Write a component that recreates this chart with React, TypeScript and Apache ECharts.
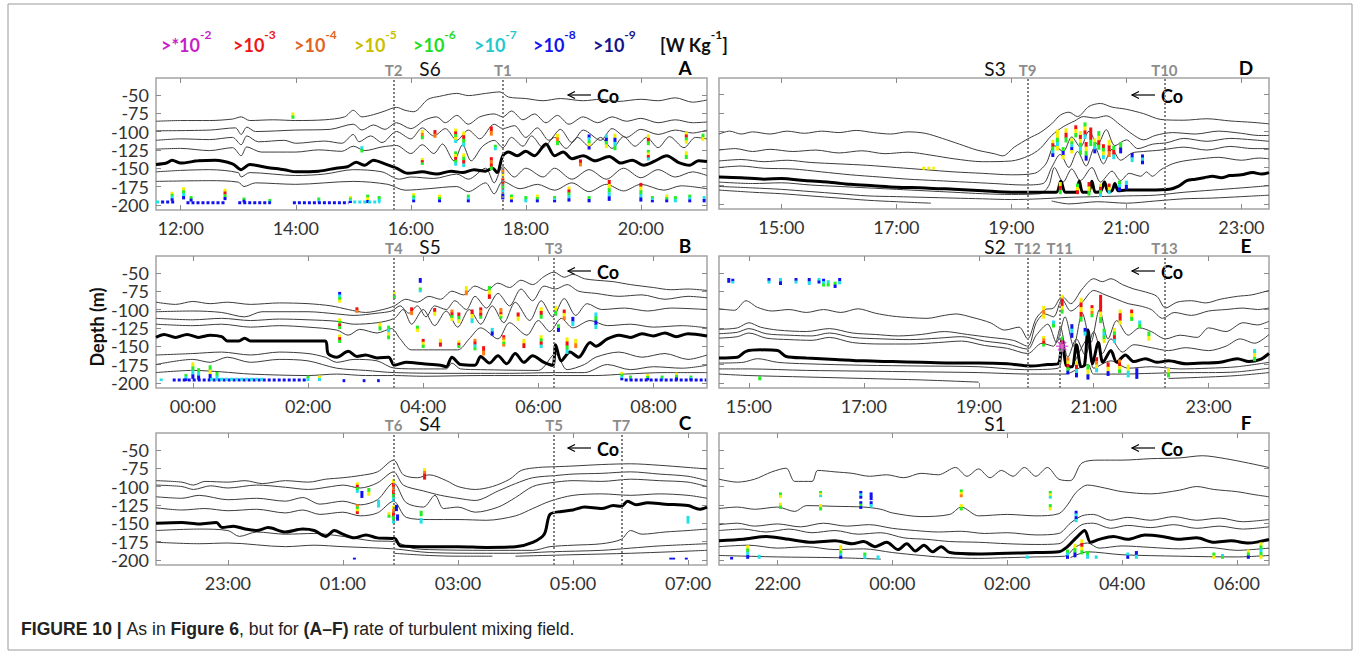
import { useEffect, useRef } from "react";
import * as echarts from "echarts";

type Pt = [number, number | null];
type Col = [number, number, number, string];
type Run = [number, number, number, string];

// ---------- axes ----------
const Y_TICKS = [-200, -175, -150, -125, -100, -75, -50];
const Y_MIN = -207;
const Y_MAX = -27;

const A_RANGE = [11.57, 21.15]; const A_TICKS = [12, 14, 16, 18, 20];
const B_RANGE = [-0.64, 8.93]; const B_TICKS = [0, 2, 4, 6, 8];
const C_RANGE = [21.75, 31.33]; const C_TICKS = [23, 25, 27, 29, 31];
const D_RANGE = [13.915, 23.48]; const D_TICKS = [15, 17, 19, 21, 23];
const E_RANGE = [14.48, 24.05]; const E_TICKS = [15, 17, 19, 21, 23];
const F_RANGE = [20.98, 30.56]; const F_TICKS = [22, 24, 26, 28, 30];

// transect marks (hour, name)
const T_A: [number, string][] = [[15.7, "T2"], [17.6, "T1"]];
const T_B: [number, string][] = [[3.49, "T4"], [6.27, "T3"]];
const T_C: [number, string][] = [[25.88, "T6"], [28.67, "T5"], [29.84, "T7"]];
const T_D: [number, string][] = [[19.28, "T9"], [21.66, "T10"]];
const T_E: [number, string][] = [[19.85, "T12"], [20.41, "T11"], [22.23, "T13"]];
const T_F: [number, string][] = [];

// ---------- panel A (S6) isolines ----------
const lineA1: Pt[] = [[11.57,-86],[12.0,-85],[12.5,-85],[12.9,-83],[13.05,-80],[13.2,-85],[13.6,-84],[14.0,-85],[14.5,-84],[14.85,-80],[15.0,-71],[15.15,-80],[15.35,-77],[15.55,-72],[15.75,-67],[15.9,-71],[16.05,-73],[16.3,-56],[16.5,-52],[16.8,-48],[17.0,-51],[17.3,-48],[17.55,-46],[17.7,-53],[18.0,-55],[18.3,-58],[18.6,-55],[19.0,-58],[19.3,-56],[19.6,-59],[20.0,-56],[20.3,-58],[20.6,-54],[20.9,-60],[21.15,-57]];
const lineA2: Pt[] = [[11.57,-99],[12.5,-98],[12.95,-95],[13.05,-104],[13.15,-94],[13.3,-100],[14.0,-98],[14.6,-97],[15.0,-90],[15.15,-98],[15.35,-91],[15.55,-97],[15.75,-88],[16.0,-96],[16.25,-84],[16.45,-80],[16.6,-88],[16.8,-78],[17.0,-90],[17.2,-80],[17.45,-76],[17.6,-80],[17.75,-72],[17.95,-84],[18.15,-76],[18.35,-88],[18.55,-78],[18.75,-90],[19.0,-80],[19.25,-88],[19.5,-80],[19.75,-86],[20.0,-82],[20.3,-88],[20.6,-84],[20.9,-88],[21.15,-87]];
const lineA3: Pt[] = [[11.57,-112],[12.0,-110],[12.5,-111],[12.9,-108],[13.05,-118],[13.15,-106],[13.35,-114],[13.8,-112],[14.0,-116],[14.5,-113],[14.8,-116],[15.0,-104],[15.1,-114],[15.3,-106],[15.5,-115],[15.75,-100],[16.0,-110],[16.2,-95],[16.4,-106],[16.6,-96],[16.8,-112],[17.0,-98],[17.2,-110],[17.45,-90],[17.6,-96],[17.8,-92],[18.0,-108],[18.2,-95],[18.4,-112],[18.6,-97],[18.8,-115],[19.0,-98],[19.3,-112],[19.5,-96],[19.75,-108],[20.0,-97],[20.3,-104],[20.6,-98],[20.9,-102],[21.15,-98]];
const lineA4: Pt[] = [[11.57,-124],[12.0,-123],[12.5,-126],[12.9,-122],[13.05,-133],[13.15,-121],[13.4,-128],[14.0,-128],[14.4,-125],[14.8,-127],[15.0,-120],[15.2,-126],[15.5,-121],[15.75,-119],[16.0,-130],[16.2,-118],[16.4,-130],[16.55,-117],[16.75,-140],[16.9,-118],[17.05,-140],[17.25,-120],[17.45,-112],[17.6,-122],[17.75,-108],[17.95,-120],[18.1,-106],[18.3,-122],[18.5,-108],[18.7,-123],[18.9,-108],[19.1,-120],[19.3,-108],[19.5,-123],[19.7,-107],[19.9,-120],[20.1,-108],[20.3,-122],[20.5,-107],[20.75,-122],[20.95,-108],[21.15,-110]];
const lineA5: Pt[] = [[11.57,-145],[11.75,-143],[11.85,-139],[12.0,-143],[12.3,-140],[12.6,-139],[12.9,-144],[13.05,-152],[13.2,-145],[13.5,-149],[13.8,-152],[14.0,-155],[14.4,-154],[14.7,-150],[14.9,-148],[15.05,-142],[15.2,-146],[15.35,-139],[15.55,-144],[15.75,-150],[15.95,-157],[16.2,-155],[16.45,-158],[16.7,-154],[16.9,-156],[17.1,-152],[17.3,-154],[17.42,-150],[17.5,-156],[17.6,-133],[17.7,-128],[17.85,-133],[18.0,-127],[18.15,-133],[18.35,-117],[18.5,-133],[18.65,-128],[18.8,-137],[19.0,-133],[19.2,-140],[19.45,-134],[19.65,-143],[19.85,-139],[20.05,-146],[20.25,-140],[20.45,-133],[20.65,-142],[20.85,-146],[21.0,-140],[21.15,-141]];
const lineA6: Pt[] = [[11.57,-155],[12.0,-153],[12.5,-152],[13.0,-156],[13.05,-162],[13.2,-156],[14.0,-160],[14.5,-158],[15.0,-152],[15.5,-155],[15.8,-165],[16.0,-162],[16.4,-164],[16.8,-158],[17.0,-165],[17.3,-150],[17.45,-170],[17.6,-148],[17.8,-162],[18.0,-150],[18.3,-162],[18.5,-150],[18.8,-165],[19.1,-152],[19.4,-165],[19.7,-150],[20.0,-163],[20.3,-152],[20.6,-162],[20.9,-155],[21.15,-160]];
const lineA7: Pt[] = [[11.57,-168],[12.5,-167],[13.0,-169],[13.1,-175],[13.3,-170],[14.0,-172],[15.0,-168],[15.6,-172],[15.9,-180],[16.3,-178],[16.8,-175],[17.0,-182],[17.3,-170],[17.45,-185],[17.6,-168],[17.9,-178],[18.2,-172],[18.5,-180],[18.8,-170],[19.1,-182],[19.4,-172],[19.7,-181],[20.0,-172],[20.4,-180],[20.7,-174],[21.15,-178]];

// ---------- panel B (S5) isolines ----------
const lineB1: Pt[] = [[-0.64,-90],[-0.3,-93],[0.0,-89],[0.3,-92],[0.6,-90],[1.0,-93],[1.5,-91],[2.0,-92],[2.4,-95],[2.7,-100],[3.0,-104],[3.3,-100],[3.5,-95],[3.7,-86],[3.9,-90],[4.1,-82],[4.3,-86],[4.5,-75],[4.7,-80],[4.9,-68],[5.1,-74],[5.3,-64],[5.5,-70],[5.7,-60],[5.9,-66],[6.1,-55],[6.27,-49],[6.45,-56],[6.6,-52],[6.8,-58],[7.0,-60],[7.3,-62],[7.6,-66],[8.0,-70],[8.3,-73],[8.6,-72],[8.93,-74]];
const lineB2: Pt[] = [[-0.64,-103],[0.0,-102],[0.5,-104],[0.9,-110],[1.2,-103],[2.0,-103],[2.5,-106],[2.8,-108],[3.2,-105],[3.45,-102],[3.6,-95],[3.75,-105],[3.9,-95],[4.05,-110],[4.2,-95],[4.4,-100],[4.55,-88],[4.75,-100],[4.9,-82],[5.1,-98],[5.3,-78],[5.5,-95],[5.7,-72],[5.9,-88],[6.1,-68],[6.3,-72],[6.5,-66],[6.7,-75],[7.0,-78],[7.4,-82],[7.8,-80],[8.2,-86],[8.6,-82],[8.93,-84]];
const lineB3: Pt[] = [[-0.64,-112],[0.0,-114],[0.5,-112],[1.0,-115],[1.5,-113],[2.0,-114],[2.5,-116],[2.8,-120],[3.2,-118],[3.5,-112],[3.65,-100],[3.8,-120],[4.0,-100],[4.2,-122],[4.4,-102],[4.6,-124],[4.8,-100],[5.0,-120],[5.2,-95],[5.4,-118],[5.6,-90],[5.85,-115],[6.05,-88],[6.25,-110],[6.45,-85],[6.65,-108],[6.85,-92],[7.1,-100],[7.5,-98],[7.9,-102],[8.3,-98],[8.93,-100]];
const lineB4: Pt[] = [[-0.64,-120],[0.0,-122],[0.5,-120],[1.0,-124],[1.5,-122],[2.0,-124],[2.5,-128],[2.7,-135],[2.9,-127],[3.2,-132],[3.45,-126],[3.6,-140],[3.8,-155],[4.6,-155],[4.8,-140],[5.0,-125],[5.3,-140],[5.5,-118],[5.8,-135],[6.0,-115],[6.2,-130],[6.4,-112],[6.6,-125],[6.9,-115],[7.2,-122],[7.6,-120],[8.0,-124],[8.5,-122],[8.93,-125]];
const lineB5: Pt[] = [[-0.64,-138],[-0.5,-134],[-0.3,-138],[-0.1,-134],[0.1,-138],[0.3,-135],[0.5,-137],[0.6,-143],[0.8,-143],[0.9,-139],[1.0,-143],[1.5,-143],[2.0,-143],[2.3,-143],[2.35,-160],[2.5,-165],[2.7,-157],[2.85,-164],[3.0,-162],[3.2,-166],[3.4,-165],[3.5,-176],[3.7,-172],[4.0,-174],[4.3,-176],[4.4,-178],[4.5,-165],[4.65,-175],[4.9,-176],[5.0,-164],[5.15,-173],[5.3,-163],[5.45,-174],[5.6,-160],[5.75,-172],[5.9,-163],[6.1,-172],[6.25,-176],[6.3,-148],[6.4,-170],[6.55,-158],[6.7,-165],[6.9,-145],[7.0,-150],[7.2,-140],[7.4,-135],[7.6,-138],[7.8,-133],[8.0,-136],[8.2,-132],[8.4,-137],[8.6,-133],[8.93,-136]];
const lineB6: Pt[] = [[-0.64,-162],[0.0,-160],[0.5,-158],[1.0,-162],[1.5,-158],[2.0,-160],[2.3,-165],[2.5,-172],[2.8,-168],[3.2,-170],[3.5,-180],[4.0,-181],[4.4,-181],[4.5,-173],[4.65,-181],[5.0,-182],[6.0,-183],[6.3,-160],[6.5,-182],[6.8,-175],[7.0,-165],[7.4,-158],[7.8,-165],[8.2,-160],[8.6,-168],[8.93,-162]];
const lineB7: Pt[] = [[-0.64,-175],[0.0,-168],[0.3,-172],[0.6,-165],[1.0,-172],[1.5,-168],[2.0,-170],[2.5,-180],[3.0,-183],[3.5,-186],[4.5,-187],[5.5,-187],[6.3,-186],[6.8,-186],[7.2,-175],[7.6,-182],[8.0,-178],[8.5,-180],[8.93,-176]];
const lineB8: Pt[] = [[-0.64,-186],[0.0,-183],[0.5,-185],[1.0,-188],[2.0,-190],[2.5,-188],[3.0,-190],[3.5,-190],[4.0,-191],[5.0,-190],[6.0,-190],[7.0,-190],[7.5,-188],[8.2,-186],[8.93,-186]];

// ---------- panel C (S4) isolines ----------
const lineC1: Pt[] = [[21.75,-92],[22.2,-94],[22.4,-98],[22.6,-93],[23.0,-94],[23.3,-92],[23.6,-96],[24.0,-92],[24.4,-94],[24.7,-90],[25.0,-88],[25.3,-85],[25.6,-80],[25.88,-64],[26.05,-84],[26.3,-88],[26.5,-84],[26.8,-92],[27.0,-100],[27.3,-104],[27.6,-100],[27.9,-90],[28.1,-78],[28.4,-74],[28.7,-73],[29.0,-72],[29.5,-70],[30.0,-69],[30.5,-71],[31.0,-74],[31.33,-76]];
const lineC2: Pt[] = [[21.75,-98],[22.2,-100],[22.4,-104],[22.7,-99],[23.0,-102],[23.5,-98],[24.0,-101],[24.4,-104],[24.8,-100],[25.0,-98],[25.3,-102],[25.6,-95],[25.88,-80],[26.05,-98],[26.4,-106],[26.7,-112],[27.0,-116],[27.3,-119],[27.7,-106],[28.0,-96],[28.3,-88],[28.7,-85],[29.0,-83],[29.5,-82],[30.0,-80],[30.5,-83],[31.0,-86],[31.33,-92]];
const lineC3: Pt[] = [[21.75,-114],[22.2,-116],[22.5,-112],[23.0,-118],[23.5,-116],[24.0,-120],[24.3,-115],[24.6,-124],[25.0,-120],[25.3,-125],[25.6,-118],[25.88,-95],[26.1,-122],[26.4,-128],[26.6,-112],[26.75,-130],[27.0,-128],[27.3,-135],[27.7,-128],[28.0,-115],[28.3,-100],[28.6,-95],[29.0,-92],[29.5,-93],[30.0,-90],[30.5,-92],[31.0,-94],[31.33,-100]];
const lineC4: Pt[] = [[21.75,-129],[22.2,-132],[22.6,-130],[23.0,-133],[23.5,-131],[24.0,-136],[24.3,-132],[24.6,-138],[25.0,-135],[25.3,-140],[25.6,-136],[25.88,-120],[26.1,-142],[26.5,-145],[27.0,-145],[27.5,-146],[28.0,-140],[28.3,-130],[28.6,-120],[29.0,-112],[29.5,-110],[30.0,-112],[30.5,-110],[31.0,-112],[31.33,-116]];
const lineC5: Pt[] = [[21.75,-150],[22.2,-149],[22.5,-151],[22.8,-149],[22.9,-156],[23.1,-154],[23.3,-158],[23.5,-160],[23.7,-156],[24.0,-162],[24.3,-158],[24.5,-160],[24.7,-168],[24.85,-160],[25.0,-165],[25.2,-170],[25.4,-166],[25.6,-170],[25.9,-171],[26.0,-181],[26.5,-182],[27.0,-182],[27.5,-183],[28.0,-182],[28.3,-176],[28.5,-165],[28.6,-138],[28.8,-134],[29.0,-132],[29.2,-128],[29.5,-130],[29.7,-126],[29.84,-127],[29.95,-120],[30.1,-125],[30.3,-122],[30.6,-124],[31.0,-126],[31.2,-131],[31.33,-128]];
const lineC6: Pt[] = [[21.75,-160],[22.5,-158],[23.0,-160],[23.2,-168],[23.5,-162],[24.0,-165],[24.5,-164],[25.0,-168],[25.5,-174],[25.88,-175],[26.2,-184],[26.5,-186],[27.5,-187],[28.3,-187],[28.6,-182],[29.0,-180],[29.5,-178],[29.84,-172],[30.0,-160],[30.2,-165],[30.6,-162],[31.0,-160],[31.33,-158]];
const lineC7: Pt[] = [[21.75,-176],[22.5,-178],[23.0,-177],[24.0,-182],[24.5,-180],[25.0,-182],[25.88,-185],[26.5,-190],[27.5,-191],[28.0,-191],[28.6,-189],[29.5,-187],[30.0,-184],[30.5,-181],[31.33,-178]];
const lineC8: Pt[] = [[25.88,-191],[26.5,-194],[27.0,-195],[27.6,-195],[27.61,null],[28.0,-195],[29.0,-193],[30.0,-191],[30.7,-189],[31.33,-187]];

// ---------- panel D (S3) isolines ----------
const lineD1: Pt[] = [[13.915,-104],[14.1,-100],[14.3,-104],[14.5,-101],[14.8,-104],[15.1,-100],[15.4,-103],[15.7,-100],[16.0,-102],[16.3,-99],[16.6,-102],[16.9,-104],[17.2,-101],[17.5,-103],[17.8,-110],[18.1,-118],[18.4,-126],[18.7,-131],[18.85,-134],[19.05,-122],[19.3,-110],[19.5,-102],[19.7,-90],[19.85,-78],[20.0,-74],[20.15,-80],[20.35,-66],[20.55,-62],[20.75,-67],[21.0,-70],[21.3,-76],[21.6,-84],[22.0,-85],[22.4,-83],[22.8,-86],[23.2,-88],[23.48,-90]];
const lineD2: Pt[] = [[13.915,-126],[14.2,-124],[14.5,-128],[14.8,-125],[15.2,-128],[15.6,-126],[16.0,-130],[16.4,-127],[16.8,-131],[17.2,-129],[17.6,-133],[18.0,-138],[18.5,-142],[19.0,-141],[19.3,-134],[19.5,-124],[19.7,-106],[19.9,-94],[20.1,-86],[20.25,-80],[20.45,-82],[20.65,-79],[20.9,-92],[21.1,-104],[21.3,-112],[21.5,-106],[21.8,-102],[22.2,-104],[22.6,-100],[23.0,-103],[23.3,-106],[23.48,-106]];
const lineD3: Pt[] = [[13.915,-141],[14.3,-139],[14.7,-142],[15.1,-140],[15.5,-143],[16.0,-145],[16.5,-147],[17.0,-150],[17.5,-153],[18.0,-156],[18.5,-158],[19.0,-160],[19.4,-158],[19.6,-145],[19.75,-120],[19.9,-128],[20.05,-108],[20.2,-122],[20.35,-100],[20.5,-118],[20.65,-98],[20.8,-120],[21.0,-112],[21.2,-124],[21.45,-118],[21.7,-116],[22.0,-110],[22.4,-114],[22.8,-110],[23.2,-112],[23.48,-114]];
const lineD4: Pt[] = [[13.915,-150],[14.3,-148],[14.7,-151],[15.2,-152],[15.7,-156],[16.2,-160],[16.7,-163],[17.2,-166],[17.7,-168],[18.2,-170],[18.7,-172],[19.2,-174],[19.55,-172],[19.7,-150],[19.85,-132],[20.0,-150],[20.15,-128],[20.3,-148],[20.45,-122],[20.6,-145],[20.75,-125],[20.9,-140],[21.1,-130],[21.3,-128],[21.6,-126],[22.0,-122],[22.4,-126],[22.8,-121],[23.2,-124],[23.48,-124]];
const lineD5: Pt[] = [[13.915,-163],[14.3,-164],[14.7,-166],[15.0,-165],[15.4,-168],[15.8,-170],[16.2,-173],[16.6,-175],[17.0,-177],[17.5,-178],[18.0,-180],[18.5,-182],[19.0,-184],[19.5,-184],[19.78,-184],[19.86,-169],[19.94,-184],[20.12,-184],[20.18,-169],[20.24,-184],[20.34,-184],[20.4,-169],[20.46,-184],[20.55,-183],[20.62,-170],[20.68,-183],[20.75,-182],[20.8,-172],[20.86,-182],[21.0,-181],[21.4,-181],[21.75,-180],[21.9,-176],[22.05,-168],[22.2,-166],[22.35,-164],[22.5,-162],[22.65,-164],[22.8,-161],[23.0,-160],[23.2,-157],[23.35,-159],[23.48,-157]];
const lineD6: Pt[] = [[13.915,-170],[14.5,-172],[15.0,-171],[15.5,-174],[16.0,-176],[16.5,-178],[17.0,-180],[17.5,-182],[18.0,-184],[18.5,-186],[19.0,-187],[19.5,-186],[19.65,-175],[19.75,-150],[19.9,-170],[20.05,-152],[20.2,-168],[20.4,-150],[20.55,-170],[20.75,-155],[20.9,-168],[21.05,-158],[21.25,-162],[21.35,-156],[21.45,-162],[21.6,-153],[21.8,-145],[22.0,-141],[22.3,-138],[22.6,-136],[23.0,-140],[23.3,-137],[23.48,-138]];
const lineD7: Pt[] = [[13.915,-176],[14.5,-178],[15.0,-180],[15.5,-183],[16.0,-186],[16.5,-189],[17.0,-190],[17.5,-191],[18.0,-192],[18.5,-193],[19.0,-194],[19.5,-193],[20.0,-191],[20.5,-190],[21.0,-189],[21.5,-188],[22.0,-184],[22.5,-181],[23.0,-178],[23.48,-175]];
const lineD8: Pt[] = [[13.915,-181],[14.5,-184],[15.0,-186],[15.5,-189],[16.0,-192],[16.5,-195],[17.0,-197],[17.6,-199],[17.61,null],[19.7,-196],[20.0,-200],[20.5,-197],[21.0,-199],[21.5,-196],[22.0,-193],[22.5,-192],[23.0,-190],[23.48,-188]];

// ---------- panel E (S2) isolines ----------
const lineE1: Pt[] = [[14.48,-99],[14.75,-101],[14.95,-88],[15.15,-97],[15.4,-102],[15.7,-100],[16.0,-104],[16.3,-100],[16.6,-104],[16.9,-99],[17.2,-105],[17.5,-109],[17.8,-111],[18.1,-112],[18.4,-108],[18.6,-106],[18.9,-111],[19.2,-118],[19.45,-128],[19.7,-124],[19.85,-140],[20.0,-112],[20.15,-100],[20.3,-98],[20.45,-82],[20.6,-92],[20.8,-72],[21.0,-58],[21.15,-62],[21.3,-58],[21.5,-66],[21.7,-72],[21.9,-76],[22.1,-82],[22.25,-98],[22.45,-90],[22.7,-88],[22.95,-91],[23.2,-86],[23.5,-82],[23.75,-80],[24.05,-74]];
const lineE2: Pt[] = [[14.48,-127],[14.8,-125],[15.0,-118],[15.2,-124],[15.5,-128],[16.0,-130],[16.4,-126],[16.8,-132],[17.2,-134],[17.6,-136],[18.0,-134],[18.4,-130],[18.8,-134],[19.2,-138],[19.6,-142],[19.85,-150],[20.0,-118],[20.15,-106],[20.3,-110],[20.45,-86],[20.6,-102],[20.8,-90],[21.0,-74],[21.2,-80],[21.4,-86],[21.6,-92],[21.8,-95],[22.0,-100],[22.2,-112],[22.4,-104],[22.7,-108],[23.0,-102],[23.3,-100],[23.6,-98],[23.85,-100],[24.05,-98]];
const lineE3: Pt[] = [[14.48,-133],[14.8,-131],[15.0,-126],[15.3,-133],[15.7,-135],[16.1,-136],[16.4,-132],[16.8,-138],[17.3,-140],[17.8,-141],[18.3,-139],[18.7,-137],[19.1,-143],[19.5,-147],[19.85,-154],[20.0,-135],[20.2,-120],[20.35,-145],[20.5,-110],[20.65,-150],[20.8,-105],[20.95,-145],[21.1,-100],[21.25,-140],[21.4,-115],[21.6,-135],[21.8,-125],[22.0,-130],[22.25,-140],[22.5,-135],[22.8,-138],[23.0,-125],[23.3,-130],[23.6,-118],[23.85,-121],[24.05,-116]];
const lineE4: Pt[] = [[14.48,-139],[14.8,-137],[15.0,-132],[15.3,-139],[15.7,-141],[16.1,-142],[16.4,-138],[16.8,-145],[17.3,-147],[17.8,-147],[18.3,-145],[18.7,-143],[19.1,-149],[19.5,-153],[19.85,-160],[20.1,-146],[20.3,-150],[20.42,-125],[20.55,-165],[20.7,-140],[20.85,-162],[21.0,-130],[21.15,-160],[21.3,-140],[21.5,-158],[21.7,-148],[22.0,-152],[22.3,-156],[22.6,-152],[23.0,-156],[23.3,-150],[23.55,-140],[23.8,-146],[24.05,-134]];
const lineE5: Pt[] = [[14.48,-166],[14.8,-165],[14.95,-157],[15.2,-155],[15.5,-156],[15.65,-164],[16.0,-166],[16.5,-168],[17.0,-170],[17.5,-171],[18.0,-172],[18.5,-173],[19.0,-173],[19.5,-174],[19.9,-177],[20.2,-175],[20.38,-174],[20.45,-140],[20.52,-176],[20.62,-178],[20.7,-148],[20.78,-178],[20.84,-176],[20.9,-128],[20.98,-174],[21.08,-145],[21.16,-172],[21.3,-156],[21.4,-172],[21.55,-162],[21.7,-171],[21.9,-167],[22.1,-172],[22.3,-170],[22.6,-174],[22.9,-173],[23.2,-172],[23.5,-167],[23.7,-171],[23.9,-168],[24.05,-160]];
const lineE6: Pt[] = [[14.48,-173],[14.9,-172],[15.15,-167],[15.5,-172],[16.0,-174],[17.0,-176],[18.0,-177],[19.0,-178],[19.8,-182],[20.38,-180],[20.46,-150],[20.56,-182],[20.9,-140],[21.0,-180],[21.3,-170],[21.6,-180],[22.0,-178],[22.5,-181],[23.0,-180],[23.5,-178],[24.05,-172]];
const lineE7: Pt[] = [[14.48,-181],[15.0,-181],[16.0,-183],[17.0,-184],[18.0,-185],[19.0,-186],[19.9,-188],[20.5,-188],[20.9,-175],[21.0,-188],[21.5,-188],[22.0,-187],[22.5,-186],[23.0,-186],[23.5,-185],[24.05,-180]];
const lineE8: Pt[] = [[14.48,-188],[15.0,-190],[16.0,-192],[17.0,-194],[18.0,-196],[19.0,-199],[19.01,null],[22.3,-194],[23.0,-192],[23.5,-190],[24.05,-186]];

// ---------- panel F (S1) isolines ----------
const lineF1: Pt[] = [[20.98,-90],[21.3,-94],[21.6,-90],[21.9,-80],[22.15,-75],[22.3,-93],[22.6,-93],[22.7,-78],[23.0,-80],[23.3,-82],[23.6,-86],[23.9,-84],[24.2,-88],[24.5,-82],[24.8,-84],[25.1,-74],[25.3,-86],[25.5,-76],[25.7,-88],[25.9,-78],[26.1,-86],[26.3,-74],[26.5,-86],[26.7,-74],[26.9,-90],[27.1,-92],[27.3,-68],[27.6,-64],[28.0,-64],[28.5,-62],[29.0,-61],[29.4,-58],[29.8,-62],[30.2,-68],[30.56,-74]];
const lineF2: Pt[] = [[20.98,-130],[21.3,-128],[21.6,-131],[22.0,-128],[22.3,-134],[22.5,-126],[23.0,-127],[23.5,-128],[23.8,-131],[24.0,-136],[24.5,-141],[25.0,-138],[25.2,-128],[25.5,-140],[26.0,-138],[26.5,-140],[26.9,-137],[27.05,-125],[27.2,-108],[27.4,-98],[27.7,-102],[28.0,-107],[28.5,-110],[29.0,-105],[29.3,-100],[29.6,-104],[30.0,-107],[30.3,-111],[30.56,-114]];
const lineF3: Pt[] = [[20.98,-152],[21.3,-150],[21.6,-154],[22.0,-151],[22.4,-155],[22.8,-150],[23.2,-154],[23.6,-152],[24.0,-157],[24.4,-160],[24.8,-162],[25.2,-161],[25.6,-164],[26.0,-163],[26.5,-166],[26.9,-164],[27.1,-150],[27.3,-140],[27.5,-138],[27.8,-146],[28.1,-142],[28.5,-146],[28.9,-141],[29.3,-146],[29.7,-143],[30.1,-148],[30.56,-145]];
const lineF4: Pt[] = [[20.98,-160],[21.4,-158],[21.8,-162],[22.2,-158],[22.6,-163],[23.0,-160],[23.4,-165],[23.8,-163],[24.2,-170],[24.6,-172],[25.0,-175],[25.5,-176],[26.0,-178],[26.5,-179],[26.9,-178],[27.1,-165],[27.3,-152],[27.5,-150],[27.8,-157],[28.1,-153],[28.5,-156],[28.9,-152],[29.3,-157],[29.7,-154],[30.1,-158],[30.56,-155]];
const lineF5: Pt[] = [[20.98,-174],[21.4,-172],[21.8,-168],[22.2,-172],[22.6,-176],[23.0,-174],[23.3,-178],[23.5,-175],[23.7,-182],[23.9,-176],[24.1,-186],[24.25,-178],[24.4,-188],[24.55,-180],[24.7,-189],[24.85,-182],[25.0,-190],[25.5,-192],[26.0,-191],[26.5,-190],[26.9,-189],[27.05,-182],[27.2,-170],[27.35,-160],[27.45,-176],[27.6,-172],[27.85,-168],[28.1,-172],[28.4,-166],[28.7,-168],[29.0,-172],[29.3,-170],[29.6,-176],[29.9,-174],[30.2,-177],[30.56,-172]];
const lineF6: Pt[] = [[20.98,-182],[21.5,-180],[22.0,-184],[22.5,-182],[23.0,-186],[23.5,-185],[24.0,-190],[24.5,-194],[25.0,-197],[25.5,-198],[26.0,-197],[26.5,-196],[27.0,-195],[27.2,-182],[27.4,-177],[27.6,-184],[28.0,-181],[28.5,-183],[29.0,-185],[29.5,-183],[30.0,-187],[30.56,-184]];
const lineF7: Pt[] = [[20.98,-194],[22.0,-196],[23.0,-197],[23.8,-199],[23.81,null],[27.1,-197],[27.4,-189],[28.0,-193],[29.0,-195],[30.0,-196],[30.56,-194]];

// ---------- turbulence columns: [hour, top depth, bottom depth, classes top->bottom] ----------
const colsA: Col[] = [
  [11.85,-182,-194,"ygcb"],[12.05,-176,-192,"ygcb"],[12.18,-188,-195,"gb"],[12.77,-178,-193,"yrgb"],[13.1,-190,-196,"gb"],
  [13.55,-192,-197,"gc"],[13.95,-74,-82,"yg"],[14.4,-190,-196,"gc"],[14.95,-188,-197,"ygcb"],[15.15,-120,-128,"cg"],
  [15.25,-186,-197,"gyb"],[15.45,-188,-196,"gc"],[16.05,-184,-196,"ygcb"],[16.2,-98,-110,"yog"],[16.2,-136,-145,"yrg"],
  [16.42,-98,-108,"ro"],[16.5,-186,-196,"ygb"],[16.78,-96,-115,"yrgyc"],[16.78,-127,-146,"gyrgc"],[16.92,-100,-120,"yrgc"],
  [16.92,-130,-148,"ygrc"],[17.0,-186,-196,"gcb"],[17.4,-93,-105,"ro"],[17.4,-135,-152,"rorg"],[17.47,-118,-125,"gc"],
  [17.6,-150,-192,"oyrgcb"],[17.75,-186,-196,"gyb"],[18.0,-188,-196,"gc"],[18.2,-186,-196,"ygb"],[18.55,-103,-118,"yog"],
  [18.5,-188,-196,"gcb"],[18.75,-175,-195,"yrgcb"],[18.95,-138,-147,"ro"],[19.1,-104,-124,"bcgyb"],[19.1,-188,-196,"gb"],
  [19.4,-104,-122,"cbgy"],[19.45,-166,-194,"rygcb"],[19.55,-103,-125,"ybcg"],[20.0,-170,-195,"rygcb"],[20.13,-104,-118,"yrg"],
  [20.13,-125,-139,"gyrc"],[20.2,-188,-196,"gcb"],[20.45,-186,-196,"ygb"],[20.6,-188,-196,"gc"],[20.79,-100,-116,"yrgy"],
  [20.79,-127,-137,"yg"],[20.85,-186,-196,"gcb"],[21.08,-103,-112,"gy"],[21.1,-188,-196,"cb"]
];
const colsB: Col[] = [
  [-0.55,-194,-197,"c"],[-0.12,-188,-197,"gcb"],[0.0,-172,-194,"ygcb"],[0.1,-180,-195,"gcb"],[0.3,-176,-194,"gyb"],
  [0.42,-185,-195,"gc"],[2.0,-190,-197,"gc"],[2.2,-190,-197,"yc"],[2.55,-76,-90,"bcgy"],[2.55,-112,-126,"ygrg"],
  [2.55,-134,-145,"yrg"],[2.85,-97,-104,"ro"],[3.25,-118,-128,"yg"],[3.4,-122,-140,"gcyg"],[3.5,-75,-85,"yg"],
  [3.8,-97,-107,"ro"],[3.9,-122,-130,"gy"],[3.95,-57,-63,"b"],[3.95,-70,-76,"gc"],[4.0,-140,-152,"ryg"],
  [4.2,-98,-108,"ry"],[4.3,-140,-150,"yr"],[4.5,-100,-115,"orgy"],[4.62,-104,-118,"rgy"],[4.62,-142,-152,"yrg"],
  [4.75,-68,-80,"yo"],[4.85,-100,-118,"ryc"],[4.9,-140,-155,"orcg"],[5.0,-97,-112,"rorg"],[5.05,-150,-162,"ro"],
  [5.15,-68,-85,"gyr"],[5.2,-125,-135,"cb"],[5.35,-98,-112,"ooryg"],[5.4,-135,-150,"roygo"],[5.65,-104,-115,"ry"],
  [5.75,-140,-152,"yr"],[6.05,-97,-112,"yrg"],[6.05,-135,-152,"ygrc"],[6.3,-95,-108,"yg"],[6.35,-120,-130,"gb"],
  [6.45,-100,-114,"ryo"],[6.5,-138,-160,"yrgc"],[6.6,-110,-122,"bc"],[6.65,-140,-152,"yo"],[7.0,-104,-126,"cgbc"],
  [7.45,-185,-196,"ygcb"],[7.6,-190,-196,"gc"],[7.9,-188,-196,"ygb"],[8.15,-190,-196,"gc"],[8.4,-186,-196,"ygb"],
  [8.65,-190,-196,"gcb"]
];
const colsC: Col[] = [
  [25.25,-94,-108,"yrgc"],[25.25,-124,-137,"ogyr"],[25.33,-106,-115,"b"],[25.45,-102,-112,"gy"],[25.62,-118,-128,"c"],
  [25.8,-135,-142,"yg"],[25.88,-90,-120,"yrorgc"],[25.88,-126,-150,"yorgc"],[25.93,-125,-133,"b"],[25.95,-138,-146,"b"],
  [26.42,-75,-90,"yorr"],[26.36,-133,-140,"g"],[26.36,-143,-150,"c"],[25.2,-197,-199,"b"],[30.7,-197,-199,"b"],
  [30.75,-197,-199,"b"],[30.97,-197,-199,"b"],[31.0,-140,-150,"c"]
];
const colsD: Col[] = [
  [19.72,-112,-135,"yrgcb"],[19.8,-98,-126,"yygcy"],[19.9,-122,-138,"gby"],[19.95,-96,-115,"yrg"],[20.05,-110,-130,"ygcby"],
  [20.12,-92,-108,"ryg"],[20.2,-100,-132,"yrygcg"],[20.28,-88,-110,"gyrc"],[20.3,-115,-140,"rygb"],[20.38,-95,-120,"rrg"],
  [20.45,-110,-130,"ygcb"],[20.52,-100,-125,"gyrg"],[20.6,-118,-138,"rgyc"],[20.7,-112,-135,"yro"],[20.78,-120,-138,"grc"],
  [20.9,-115,-130,"gb"],[21.0,-168,-180,"cb"],[21.1,-130,-142,"bc"],[21.28,-132,-145,"bcb"],[19.85,-170,-186,"yrg"],
  [20.15,-172,-186,"gyr"],[20.35,-170,-188,"ryg"],[20.55,-172,-190,"yrgc"],[20.7,-172,-186,"ryc"],[20.88,-168,-182,"gcb"]
];
const colsE: Col[] = [
  [14.65,-57,-63,"b"],[14.72,-58,-64,"bc"],[15.35,-57,-64,"bc"],[15.55,-57,-66,"cb"],[15.82,-57,-64,"bc"],
  [16.05,-57,-66,"bc"],[16.22,-57,-64,"cb"],[16.3,-58,-68,"bcg"],[16.38,-60,-68,"cg"],[16.5,-62,-70,"gb"],
  [16.58,-57,-65,"bc"],[15.19,-191,-196,"g"],[20.13,-95,-112,"yoy"],[20.13,-136,-150,"yorg"],[20.3,-115,-124,"cg"],
  [20.45,-80,-105,"yrryg"],[20.45,-137,-157,"gryg"],[20.62,-120,-138,"bcb"],[20.78,-84,-116,"yryrg"],[20.85,-125,-135,"bc"],
  [20.97,-94,-110,"ryog"],[21.12,-80,-118,"rrryg"],[21.18,-126,-145,"gcgy"],[21.36,-125,-145,"ygrc"],[21.46,-100,-120,"yrry"],
  [21.66,-100,-115,"ryg"],[21.8,-115,-125,"cg"],[21.96,-130,-142,"gy"],[22.3,-180,-192,"yg"],[23.8,-154,-170,"cyg"],
  [20.55,-165,-188,"oyrgb"],[20.7,-170,-192,"yrcb"],[20.9,-175,-195,"gyb"],[21.05,-165,-185,"royc"],[21.25,-172,-190,"ryb"],
  [21.45,-168,-186,"oryg"],[21.6,-175,-192,"yc"],[21.75,-180,-194,"b"]
];
const colsF: Col[] = [
  [22.05,-108,-115,"gy"],[22.05,-122,-130,"yg"],[22.75,-106,-114,"gyc"],[22.75,-124,-132,"yg"],[23.45,-106,-116,"bcb"],
  [23.45,-120,-130,"bgb"],[23.63,-108,-118,"bb"],[23.63,-120,-128,"bc"],[25.2,-104,-114,"gyo"],[25.2,-124,-132,"yg"],
  [26.75,-106,-116,"gyc"],[26.75,-124,-132,"gy"],[27.2,-133,-148,"bcbc"],[21.48,-180,-198,"ygcb"],[21.68,-193,-198,"c"],
  [21.2,-196,-199,"b"],[23.1,-180,-198,"yygcb"],[23.52,-190,-198,"gc"],[23.75,-194,-199,"c"],[26.35,-194,-198,"c"],
  [27.05,-186,-198,"gcb"],[27.18,-178,-196,"ygb"],[27.3,-172,-192,"yryg"],[27.4,-188,-198,"gc"],[27.55,-194,-198,"c"],
  [28.1,-190,-198,"cb"],[28.25,-188,-198,"bc"],[29.6,-190,-198,"gy"],[29.75,-192,-198,"cg"],[30.2,-186,-198,"ygb"],
  [30.42,-176,-198,"ygcgy"]
];
// horizontal strips near the bottom: [from hour, to hour, depth, class]
const runsA: Run[] = [[11.57,11.66,-196,"c"],[11.66,11.9,-196,"b"],[12.1,12.75,-197,"b"],[13.0,13.55,-197,"b"],[13.95,14.9,-197,"b"],[15.0,15.45,-196,"c"]];
const runsB: Run[] = [[-0.35,1.95,-196,"b"],[0.3,1.2,-195,"c"],[2.6,2.63,-197,"b"],[2.95,2.98,-197,"b"],[3.2,3.23,-197,"b"],[7.5,8.9,-196,"b"]];
const runsD: Run[] = [[17.45,17.65,-151,"y"]];
const starsE: [number, number][] = [[20.45, -150]];

const MARK: Record<string, string> = {
  m: "#ff00ff", r: "#f01010", o: "#ff7a10", y: "#f4f000", g: "#22ee22", c: "#20e0e8", b: "#1010f0", n: "#00007a",
};

const PANELS = [
  { box: [156, 78, 551, 132], range: A_RANGE, ticks: A_TICKS, thin: [lineA1, lineA2, lineA3, lineA4, lineA6, lineA7], thick: lineA5, cols: colsA, runs: runsA, tl: T_A, yLabels: true },
  { box: [156, 256, 551, 132], range: B_RANGE, ticks: B_TICKS, thin: [lineB1, lineB2, lineB3, lineB4, lineB6, lineB7, lineB8], thick: lineB5, cols: colsB, runs: runsB, tl: T_B, yLabels: true },
  { box: [156, 433, 551, 132], range: C_RANGE, ticks: C_TICKS, thin: [lineC1, lineC2, lineC3, lineC4, lineC6, lineC7, lineC8], thick: lineC5, cols: colsC, runs: [] as Run[], tl: T_C, yLabels: true },
  { box: [719, 78, 550, 131], range: D_RANGE, ticks: D_TICKS, thin: [lineD1, lineD2, lineD3, lineD4, lineD6, lineD7, lineD8], thick: lineD5, cols: colsD, runs: runsD, tl: T_D, yLabels: false },
  { box: [719, 256, 550, 132], range: E_RANGE, ticks: E_TICKS, thin: [lineE1, lineE2, lineE3, lineE4, lineE6, lineE7, lineE8], thick: lineE5, cols: colsE, runs: [] as Run[], tl: T_E, yLabels: false },
  { box: [719, 433, 550, 132], range: F_RANGE, ticks: F_TICKS, thin: [lineF1, lineF2, lineF3, lineF4, lineF6, lineF7], thick: lineF5, cols: colsF, runs: [] as Run[], tl: T_F, yLabels: false },
];

const LEGEND: [string, string, string][] = [
  [">*10", "-2", "#c81ec8"], [">10", "-3", "#f01414"], [">10", "-4", "#e0641e"], [">10", "-5", "#c8c000"],
  [">10", "-6", "#22dd22"], [">10", "-7", "#22c8cc"], [">10", "-8", "#1414ee"], [">10", "-9", "#14148c"],
];
const LEGEND_X = [161, 233, 294, 354, 413, 474, 533, 593];

const hourFmt = (v: number) => {
  const h = ((Math.round(v) % 24) + 24) % 24;
  return (h < 10 ? "0" : "") + h + ":00";
};

function buildOption() {
  const grid: any[] = [];
  const xAxis: any[] = [];
  const yAxis: any[] = [];
  const series: any[] = [];
  const tickStyle = { color: "#8a8a8a", width: 1 };
  const labelFont = { fontFamily: "Lato", fontSize: 18, color: "#333", lineHeight: 16 };
  const noLine = { show: false, onZero: false };

  PANELS.forEach((p, i) => {
    grid.push({ left: p.box[0], top: p.box[1], width: p.box[2], height: p.box[3], show: true, borderColor: "#a4a4a4", borderWidth: 1.5, backgroundColor: "transparent", containLabel: false });
    xAxis.push({
      type: "value", gridIndex: i, position: "bottom", min: p.range[0], max: p.range[1],
      axisLine: noLine, splitLine: { show: false },
      axisTick: { show: true, inside: true, length: 5, customValues: p.ticks, lineStyle: tickStyle },
      axisLabel: { ...labelFont, customValues: p.ticks, formatter: hourFmt, margin: 10 },
    });
    xAxis.push({
      type: "value", gridIndex: i, position: "top", min: p.range[0], max: p.range[1],
      axisLine: noLine, splitLine: { show: false },
      axisTick: { show: true, inside: true, length: 5, customValues: p.ticks, lineStyle: tickStyle },
      axisLabel: { show: false },
    });
    yAxis.push({
      type: "value", gridIndex: i, position: "left", min: Y_MIN, max: Y_MAX,
      axisLine: noLine, splitLine: { show: false },
      axisTick: { show: true, inside: true, length: 5, customValues: Y_TICKS, lineStyle: tickStyle },
      axisLabel: { ...labelFont, show: p.yLabels, customValues: Y_TICKS, margin: 7 },
    });
    yAxis.push({
      type: "value", gridIndex: i, position: "right", min: Y_MIN, max: Y_MAX,
      axisLine: noLine, splitLine: { show: false },
      axisTick: { show: true, inside: true, length: 5, customValues: Y_TICKS, lineStyle: tickStyle },
      axisLabel: { show: false },
    });
    const xi = 2 * i;
    const yi = 2 * i;
    p.thin.forEach((l) => {
      series.push({ type: "line", xAxisIndex: xi, yAxisIndex: yi, data: l, showSymbol: false, smooth: 0.3, silent: true, z: 2, lineStyle: { color: "#3c3c3c", width: 1 } });
    });
    series.push({
      type: "line", xAxisIndex: xi, yAxisIndex: yi, data: p.thick, showSymbol: false, smooth: 0.3, silent: true, z: 3,
      lineStyle: { color: "#000", width: 3 },
      markLine: {
        silent: true, symbol: "none", z: 6,
        lineStyle: { type: "dotted", color: "#808080", width: 2 },
        label: { position: "end", formatter: "{b}", color: "#8c8c8c", fontWeight: "bold", fontSize: 15, fontFamily: "Lato", distance: 1, lineHeight: 15 },
        data: p.tl.map(([x, n]) => ({ xAxis: x, name: n })),
      },
    });
    const cols = p.cols;
    series.push({
      type: "custom", xAxisIndex: xi, yAxisIndex: yi, silent: true, z: 5,
      data: cols.map((c) => [c[0], c[1], c[2]]),
      encode: { x: 0, y: [1, 2] },
      renderItem: (params: any, api: any) => {
        const c = cols[params.dataIndex];
        const p1 = api.coord([c[0], c[1]]);
        const p2 = api.coord([c[0], c[2]]);
        const n = c[3].length;
        const h = (p2[1] - p1[1]) / n;
        return {
          type: "group",
          children: c[3].split("").map((k, j) => ({
            type: "rect",
            shape: { x: p1[0] - 1.5, y: p1[1] + j * h, width: 3, height: h + 0.4 },
            style: { fill: MARK[k] },
          })),
        };
      },
    });
    const runs = p.runs;
    if (runs.length) {
      series.push({
        type: "custom", xAxisIndex: xi, yAxisIndex: yi, silent: true, z: 5,
        data: runs.map((r) => [r[0], r[1], r[2]]),
        encode: { x: [0, 1], y: 2 },
        renderItem: (params: any, api: any) => {
          const r = runs[params.dataIndex];
          const a = api.coord([r[0], r[2]]);
          const b = api.coord([r[1], r[2]]);
          return { type: "line", shape: { x1: a[0], y1: a[1], x2: b[0] + 1, y2: b[1] }, style: { stroke: MARK[r[3]], lineWidth: 3, lineDash: [3, 2] } };
        },
      });
    }
    if (i === 4) {
      series.push({
        type: "scatter", xAxisIndex: xi, yAxisIndex: yi, data: starsE, silent: true, z: 6,
        symbol: "path://M0,-6L0,6M-6,0L6,0M-4.2,-4.2L4.2,4.2M-4.2,4.2L4.2,-4.2", symbolSize: 12,
        itemStyle: { color: "none", borderColor: "#e040e0", borderWidth: 1.5 },
      });
    }
  });

  const graphic: any[] = [];
  // figure frame
  graphic.push({ type: "rect", shape: { x: 8, y: 4, width: 1344, height: 646 }, style: { fill: "none", stroke: "#9a9a9a", lineWidth: 1 }, z: 0 });
  // legend
  LEGEND.forEach(([base, sup, color], k) => {
    graphic.push({
      type: "text", x: LEGEND_X[k], y: 41,
      style: {
        text: `{b|${base}}{s|${sup}}`, verticalAlign: "middle", align: "left",
        rich: {
          b: { fontFamily: "Lato", fontSize: 18, fontWeight: "bold", fill: color, lineHeight: 26, verticalAlign: "bottom" },
          s: { fontFamily: "Lato", fontSize: 12, fontWeight: "bold", fill: color, lineHeight: 14, verticalAlign: "top" },
        },
      },
    });
  });
  graphic.push({
    type: "text", x: 660, y: 41,
    style: {
      text: "{b|[W Kg}{s|-1}{b|]}", verticalAlign: "middle", align: "left",
      rich: {
        b: { fontFamily: "Lato", fontSize: 18, fontWeight: "bold", fill: "#111", lineHeight: 26, verticalAlign: "bottom" },
        s: { fontFamily: "Lato", fontSize: 12, fontWeight: "bold", fill: "#111", lineHeight: 14, verticalAlign: "top" },
      },
    },
  });
  // station names and panel letters
  const stations: [string, number, number][] = [["S6", 430, 68], ["S5", 430, 246], ["S4", 430, 423], ["S3", 995, 68], ["S2", 995, 246], ["S1", 995, 423]];
  stations.forEach(([t, x, y]) => graphic.push({ type: "text", x, y, style: { text: t, fontFamily: "Lato", fontSize: 19, lineHeight: 15, fill: "#111", align: "center", verticalAlign: "middle" } }));
  const letters: [string, number, number][] = [["A", 685, 67], ["B", 685, 245], ["C", 685, 422], ["D", 1246, 67], ["E", 1246, 245], ["F", 1246, 422]];
  letters.forEach(([t, x, y]) => graphic.push({ type: "text", x, y, style: { text: t, fontFamily: "Lato", fontSize: 19, fontWeight: "bold", lineHeight: 15, fill: "#000", align: "center", verticalAlign: "middle" } }));
  // Co arrows
  const coPos: [number, number][] = [[568, 95], [568, 271], [568, 448], [1132, 95], [1132, 271], [1132, 448]];
  coPos.forEach(([x, y]) => {
    graphic.push({ type: "line", shape: { x1: x, y1: y, x2: x + 23, y2: y }, style: { stroke: "#000", lineWidth: 1.2 } });
    graphic.push({ type: "polyline", shape: { points: [[x + 7, y - 3.5], [x, y], [x + 7, y + 3.5]] }, style: { stroke: "#000", lineWidth: 1.2, fill: "none" } });
    graphic.push({ type: "text", x: x + 29, y: y + 1, style: { text: "Co", fontFamily: "Lato", fontSize: 18, fontWeight: "bold", fill: "#000", align: "left", verticalAlign: "middle" } });
  });
  // y axis name
  graphic.push({ type: "text", x: 97, y: 327, rotation: Math.PI / 2, style: { text: "Depth (m)", font: "bold 18px Lato", fill: "#111", align: "center", verticalAlign: "middle" } });
  // caption
  graphic.push({
    type: "text", x: 21, y: 629,
    style: {
      text: "{b|FIGURE 10 | }{n|As in }{b|Figure 6}{n|, but for }{b|(A–F)}{n| rate of turbulent mixing field.}",
      verticalAlign: "middle", align: "left",
      rich: {
        b: { fontFamily: "Liberation Sans", fontSize: 17.6, fontWeight: "bold", fill: "#222" },
        n: { fontFamily: "Liberation Sans", fontSize: 17.6, fill: "#222" },
      },
    },
  });

  return { animation: false, backgroundColor: "#fff", grid, xAxis, yAxis, series, graphic };
}

export default function App() {
  const ref = useRef<HTMLDivElement>(null);
  useEffect(() => {
    if (!ref.current) return;
    const chart = echarts.init(ref.current, undefined, { renderer: "svg" });
    chart.setOption(buildOption() as any);
    return () => chart.dispose();
  }, []);
  return <div ref={ref} style={{ position: "absolute", left: 0, top: 0, width: 1360, height: 656, background: "#fff" }} />;
}
